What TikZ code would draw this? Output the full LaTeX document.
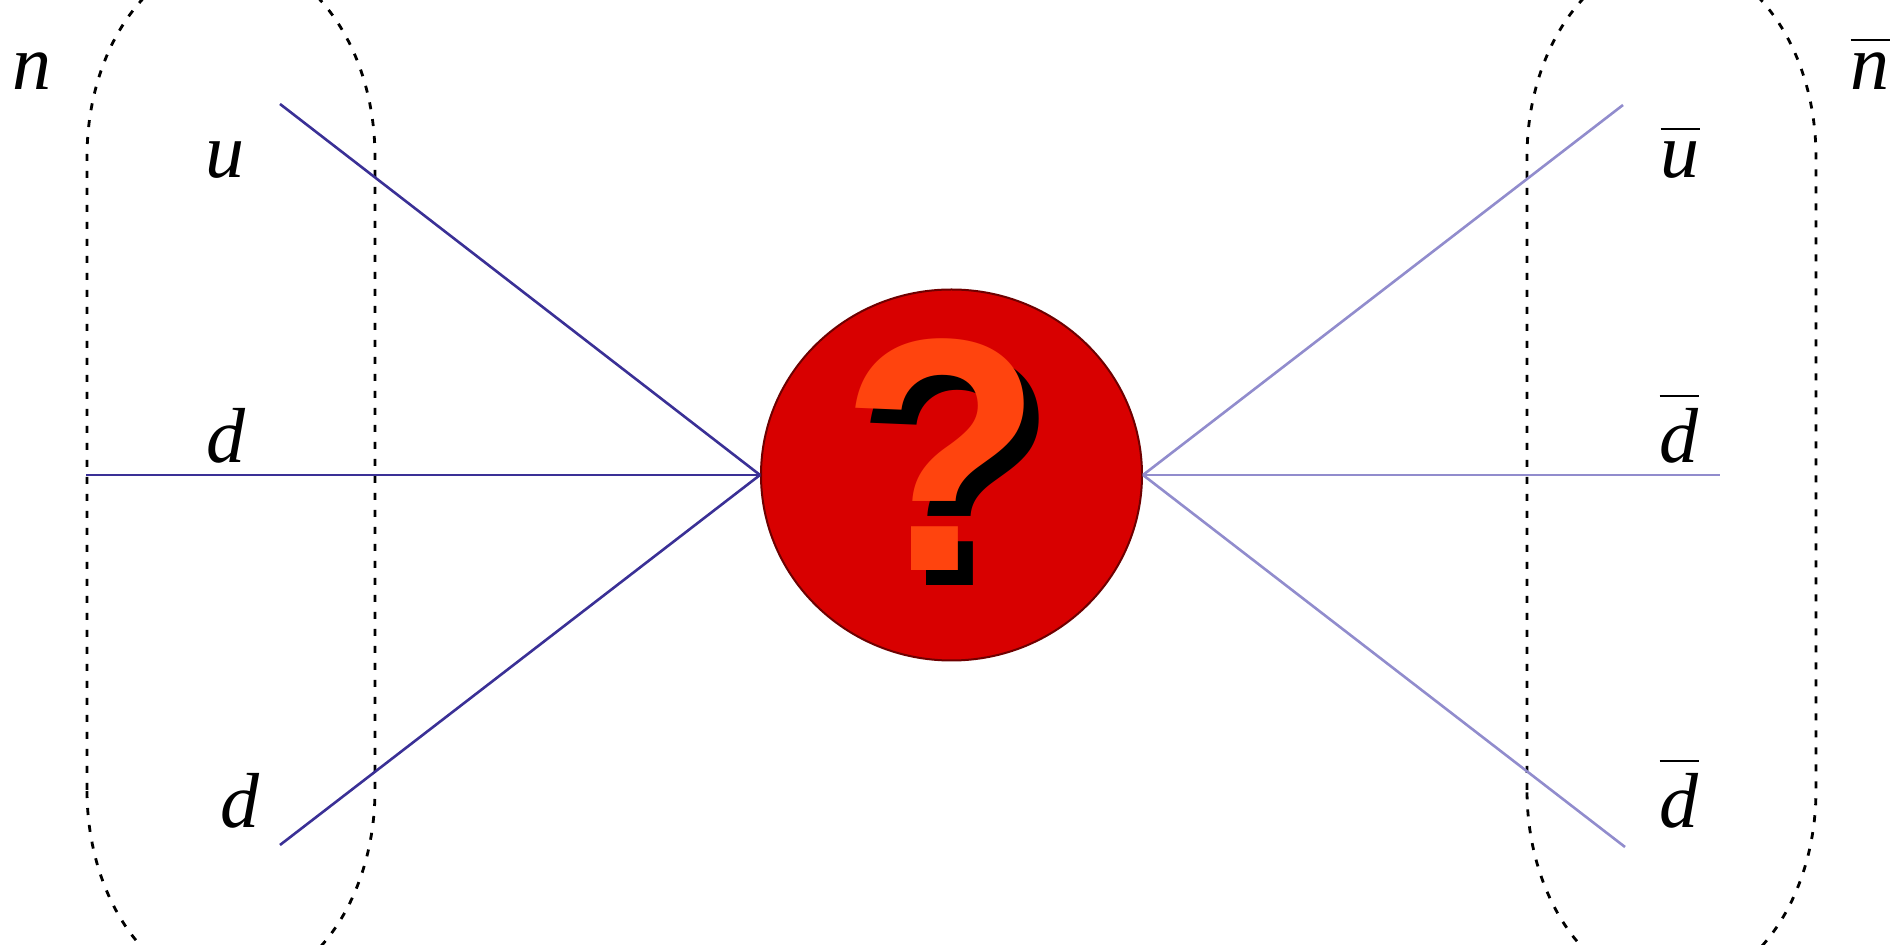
\documentclass[tikz,border=0pt]{standalone}
\usepackage{fontspec}
\setmainfont{Liberation Serif}
\newfontfamily\qfont{Liberation Sans}
\usetikzlibrary{shapes.geometric}
\definecolor{quarkL}{RGB}{58,48,150}
\definecolor{quarkR}{RGB}{145,140,205}
\definecolor{blobred}{RGB}{216,0,0}
\definecolor{blobedge}{RGB}{110,0,0}
\definecolor{qorange}{RGB}{255,68,14}
\newcommand{\barred}[1]{\leavevmode\vbox{\hrule height 1pt\kern 6pt\hbox{#1}}}
\newcommand{\shadowq}{\rlap{\hspace{7.5pt}\raisebox{-7.5pt}{\textcolor{black}{?}}}\textcolor{qorange}{?}}
\tikzset{
  bag/.style={draw=black, line width=1.4pt, dash pattern=on 3.5pt off 5pt},
  qline/.style={line width=1.3pt, color=quarkL},
  aqline/.style={line width=1.3pt, color=quarkR},
  lbl/.style={anchor=base, inner sep=0pt, font=\fontsize{39}{39}\selectfont\itshape},
  qmark/.style={inner sep=0pt, font=\qfont\bfseries\fontsize{166}{166}\selectfont}
}
\begin{document}
\begin{tikzpicture}[x=0.5pt, y=-0.5pt]
\useasboundingbox (0,0) rectangle (1903,945);
\clip (0,0) rectangle (1903,945);
% bags
\draw[bag] (87,790) -- (87,157) arc[start angle=180, end angle=360, x radius=144, y radius=200]
  -- (375,790) arc[start angle=0, end angle=180, x radius=144, y radius=200] -- cycle;
\draw[bag] (1527,790) -- (1527,157) arc[start angle=180, end angle=360, x radius=144.5, y radius=200]
  -- (1816,790) arc[start angle=0, end angle=180, x radius=144.5, y radius=200] -- cycle;
% blob
\node[ellipse, draw=blobedge, line width=1pt, fill=blobred, minimum width=190.5pt, minimum height=185.5pt, inner sep=0pt] (blob) at (951.5,475) {};
\node[qmark, anchor=north west] (qmark) at (840,338) {\shadowq};
% quark lines
\coordinate (uL) at (280,104);
\coordinate (dL) at (86,475);
\coordinate (ddL) at (280,845);
\coordinate (uR) at (1623,105);
\coordinate (dR) at (1720,475);
\coordinate (ddR) at (1625,847);
\draw[qline] (uL) -- (blob.west);
\draw[qline] (dL) -- (blob.west);
\draw[qline] (ddL) -- (blob.west);
\draw[aqline] (blob.east) -- (uR);
\draw[aqline] (blob.east) -- (dR);
\draw[aqline] (blob.east) -- (ddR);
% labels
\node[lbl] (n) at (32,90) {n};
\node[lbl] (u) at (225,178) {u};
\node[lbl] (d1) at (226,463) {d};
\node[lbl] (d2) at (240,828) {d};
\node[lbl] (nb) at (1870,90) {\barred{n}};
\node[lbl] (ub) at (1680,178) {\barred{u}};
\node[lbl] (db1) at (1679,463) {\barred{d}};
\node[lbl] (db2) at (1679,828) {\barred{d}};
\end{tikzpicture}
\end{document}
